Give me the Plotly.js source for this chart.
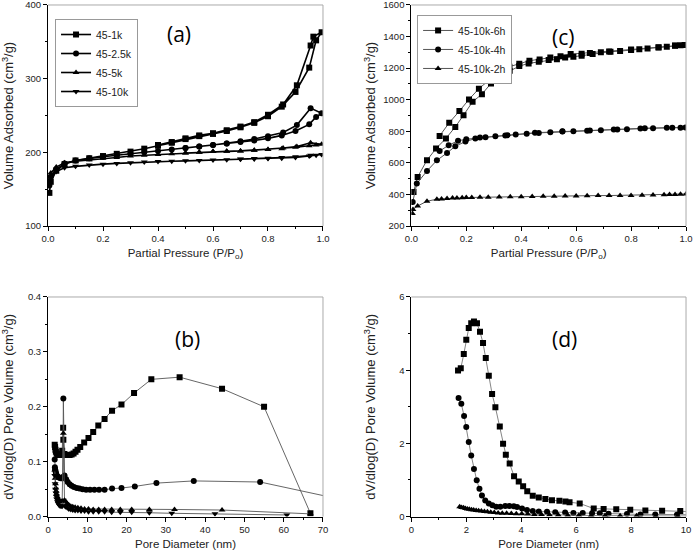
<!DOCTYPE html>
<html>
<head>
<meta charset="utf-8">
<script src="https://cdn.plot.ly/plotly-3.0.1.min.js"></script>
<style>html,body{margin:0;padding:0;background:#fff;}#chart{width:694px;height:554px;}</style>
</head>
<body>
<div id="chart"></div>
<script>
// ---------- Panel (a): N2 isotherms (adsorption then desorption) ----------
const a1k_P = [0.005,0.01,0.03,0.06,0.1,0.15,0.2,0.25,0.3,0.35,0.4,0.45,0.5,0.55,0.6,0.65,0.7,0.75,0.8,0.85,0.9,0.95,0.975,0.995,0.965,0.955,0.905,0.855,0.8,0.75,0.7,0.65,0.6,0.55,0.5,0.45,0.4];
const a1k_V = [145,160,175,184,189,192,195,198,201,205,209,213,218,222,225,229,234,240,249,262,282,315,352,363,357,345,291,265,251,241,235,230,226,223,219,214,210];
const a25k_P = [0.005,0.01,0.03,0.06,0.1,0.15,0.2,0.25,0.3,0.35,0.4,0.45,0.5,0.55,0.6,0.65,0.7,0.75,0.8,0.85,0.9,0.95,0.975,0.995,0.955,0.905,0.855,0.8,0.75,0.7,0.65,0.6,0.55,0.5];
const a25k_V = [155,167,177,185,189,192,194,196,198,200,202,204,206,208,210,212,214,216,219,223,229,238,248,253,260,237,227,222,218,215,212,210,208,206];
const a5k_P = [0.005,0.01,0.03,0.06,0.1,0.15,0.2,0.25,0.3,0.35,0.4,0.45,0.5,0.55,0.6,0.65,0.7,0.75,0.8,0.85,0.9,0.95,0.975,0.995,0.955,0.905,0.855,0.8,0.75,0.7,0.65,0.6,0.55,0.5];
const a5k_V = [163,172,180,186,188,190,192,193,195,196,197,198,199,200,201,201.5,202,203,204,205,207,209,210,211,213,208,206,204,203,202,201.5,201,200,199];
const a10k_P = [0.005,0.01,0.03,0.06,0.1,0.15,0.2,0.25,0.3,0.35,0.4,0.45,0.5,0.55,0.6,0.65,0.7,0.75,0.8,0.85,0.9,0.95,0.975,0.995,0.955,0.9,0.85,0.8,0.75,0.7];
const a10k_V = [158,167,174,179,181,183,184,185,186,187,187.5,188,188.5,189,189.5,190,190.5,191,191.5,192,193,195,196,197,196,194,193,192,191.5,191];
const a_names = ["45-1k","45-2.5k","45-5k","45-10k"];

// ---------- Panel (c): N2 isotherms ----------
const c6h_P = [0.008,0.023,0.057,0.09,0.126,0.16,0.19,0.223,0.257,0.29,0.324,0.358,0.393,0.427,0.464,0.5,0.53,0.56,0.59,0.62,0.66,0.69,0.725,0.76,0.8,0.83,0.86,0.9,0.93,0.96,0.98,0.995,0.96,0.9,0.8,0.72,0.65,0.62,0.58,0.543,0.506,0.467,0.43,0.393,0.357,0.32,0.283,0.246,0.21,0.175,0.138,0.103];
const c6h_V = [416,511,617,691,755,828,902,987,1035,1103,1150,1183,1213,1230,1240,1251,1257,1268,1272,1279,1289,1300,1304,1308,1315,1319,1325,1331,1336,1342,1345,1346,1343,1333,1318,1306,1296,1291,1289,1276,1268,1255,1247,1228,1209,1166,1124,1070,1002,928,854,771];
const c4h_P = [0.005,0.02,0.057,0.093,0.13,0.16,0.197,0.233,0.27,0.306,0.342,0.38,0.42,0.464,0.506,0.55,0.59,0.64,0.69,0.737,0.785,0.834,0.88,0.93,0.98,0.998,0.95,0.85,0.75,0.65,0.55,0.45,0.35,0.25,0.2,0.17,0.136,0.103];
const c4h_V = [352,469,549,616,663,705,735,754,763,769,773,780,784,790,794,799,801,803,807,811,813,818,820,822,822,824,823,819,812,805,800,791,775,760,750,740,712,675];
const c2h_P = [0.004,0.006,0.023,0.057,0.093,0.11,0.13,0.15,0.166,0.185,0.2,0.22,0.25,0.28,0.32,0.36,0.4,0.44,0.48,0.52,0.56,0.6,0.64,0.68,0.72,0.76,0.8,0.84,0.88,0.92,0.94,0.96,0.98,1.0];
const c2h_V = [280,305,327,357,370,372,375,377,378,379,380,381,382,383,384,385,386,387,388,389,390,391,392,393,393,394,394,395,396,398,399,400,401,403];
const c_names = ["45-10k-6h","45-10k-4h","45-10k-2h"];

// ---------- Panel (b): pore size distribution ----------
const b1k_D = [1.7,1.8,1.9,2.0,2.2,2.4,2.7,3.0,3.3,3.6,3.85,3.9,4.2,4.6,5.0,5.5,6.0,6.5,7.0,7.5,8.2,9.2,10.3,11.5,12.8,14.4,16.3,18.7,21.9,26.3,33.5,44.3,55.0,66.8];
const b1k_V = [0.131,0.127,0.122,0.118,0.115,0.113,0.112,0.112,0.113,0.12,0.162,0.14,0.114,0.112,0.112,0.112,0.113,0.115,0.118,0.122,0.127,0.135,0.143,0.154,0.166,0.178,0.193,0.204,0.225,0.25,0.254,0.233,0.2,0.006];
const b25k_D = [1.7,1.75,1.8,1.9,2.0,2.1,2.2,2.4,2.6,2.9,3.2,3.5,3.8,3.9,4.2,4.6,5.0,5.5,6.0,6.6,7.3,8.0,8.8,9.7,10.7,11.8,13.0,14.4,16.3,18.7,22.1,27.6,37.1,54.0,80];
const b25k_V = [0.104,0.09,0.086,0.083,0.08,0.077,0.075,0.073,0.072,0.071,0.07,0.07,0.072,0.215,0.075,0.068,0.063,0.059,0.056,0.054,0.052,0.051,0.05,0.049,0.049,0.049,0.049,0.049,0.051,0.052,0.055,0.061,0.065,0.063,0.023];
const b5k_D = [1.7,1.8,1.9,2.0,2.1,2.2,2.4,2.6,2.8,3.0,3.3,3.6,3.9,4.2,4.5,4.9,5.3,5.8,6.3,6.9,7.6,8.4,9.3,10.3,11.5,12.9,14.4,16.2,18.4,21.3,25.8,32.2,44.3,66.8];
const b5k_V = [0.085,0.07,0.06,0.052,0.046,0.041,0.036,0.032,0.03,0.028,0.027,0.028,0.152,0.03,0.027,0.024,0.021,0.019,0.018,0.017,0.016,0.015,0.014,0.014,0.013,0.013,0.013,0.013,0.013,0.013,0.013,0.013,0.012,0.005];
const b10k_D = [1.7,1.8,1.9,2.0,2.1,2.2,2.4,2.6,2.8,3.0,3.3,3.6,3.9,4.2,4.5,4.9,5.3,5.8,6.3,6.9,7.6,8.4,9.3,10.3,11.5,12.9,14.4,16.2,18.4,21.3,25.8,31.5,42.5,60.8];
const b10k_V = [0.075,0.06,0.05,0.043,0.037,0.032,0.027,0.024,0.021,0.02,0.019,0.019,0.03,0.02,0.018,0.016,0.014,0.013,0.012,0.011,0.011,0.01,0.01,0.009,0.009,0.009,0.009,0.008,0.008,0.008,0.007,0.006,0.005,0.003];

// ---------- Panel (d): pore size distribution ----------
const d6h_D = [1.70,1.80,1.91,2.00,2.09,2.18,2.28,2.39,2.50,2.61,2.71,2.82,2.94,3.06,3.22,3.34,3.44,3.58,3.74,3.91,4.07,4.22,4.42,4.64,4.88,5.12,5.39,5.61,5.76,6.13,6.64,7.00,7.46,7.97,8.52,9.13,9.79,10.4];
const d6h_V = [3.99,4.05,4.44,4.83,5.15,5.28,5.33,5.28,5.05,4.74,4.33,3.85,3.35,2.99,2.46,1.99,1.69,1.45,1.10,0.96,0.83,0.69,0.57,0.52,0.48,0.45,0.43,0.41,0.39,0.36,0.22,0.21,0.20,0.19,0.17,0.16,0.15,0.13];
const d4h_D = [1.72,1.82,1.92,2.00,2.09,2.18,2.28,2.38,2.48,2.57,2.69,2.82,2.95,3.09,3.24,3.42,3.57,3.73,3.85,4.03,4.21,4.42,4.64,4.94,5.24,5.60,5.90,6.24,6.58,6.86,7.18,7.85,8.34,8.88,9.67,10.4];
const d4h_V = [3.24,3.08,2.75,2.45,2.04,1.67,1.30,0.99,0.76,0.58,0.44,0.36,0.31,0.27,0.27,0.29,0.29,0.28,0.26,0.22,0.18,0.15,0.14,0.13,0.12,0.11,0.10,0.10,0.09,0.09,0.08,0.07,0.06,0.06,0.05,0.05];
const d2h_D = [1.76,1.83,1.90,1.97,2.04,2.11,2.19,2.27,2.36,2.45,2.55,2.66,2.77,2.89,3.02,3.16,3.31,3.47,3.64,3.82,4.02,4.24,4.48,4.74,5.03,5.35,5.7,6.1,6.55,7.05,7.6,8.2,8.9,9.7,10.4];
const d2h_V = [0.27,0.25,0.24,0.22,0.21,0.2,0.19,0.18,0.17,0.16,0.15,0.14,0.13,0.12,0.11,0.1,0.095,0.09,0.085,0.08,0.075,0.07,0.06,0.055,0.05,0.045,0.04,0.035,0.03,0.027,0.024,0.02,0.018,0.015,0.013];

const panelLabels = ["(a)","(b)","(c)","(d)"];

// ---------- traces ----------
function tr(x, y, sym, name, xa, ya, o) {
  return {
    type: "scatter", mode: "lines+markers", x: x, y: y, name: name,
    xaxis: xa, yaxis: ya,
    line: {color: o.lc, width: o.lw},
    marker: {symbol: sym, size: o.ms, color: "#000", line: {width: 0}},
    showlegend: !!o.leg, legend: o.leg || "legend", cliponaxis: true
  };
}
const A = {lc: "#000", lw: 1.6, ms: 6, leg: "legend"};
const C = {lc: "#555", lw: 1, ms: 6, leg: "legend2"};
const B = {lc: "#555", lw: 0.9, ms: 6};
const D = {lc: "#777", lw: 0.9, ms: 6};
const data = [
  tr(a1k_P, a1k_V, "square", a_names[0], "x", "y", A),
  tr(a25k_P, a25k_V, "circle", a_names[1], "x", "y", A),
  tr(a5k_P, a5k_V, "triangle-up", a_names[2], "x", "y", A),
  tr(a10k_P, a10k_V, "triangle-down", a_names[3], "x", "y", A),
  tr(c6h_P, c6h_V, "square", c_names[0], "x2", "y2", C),
  tr(c4h_P, c4h_V, "circle", c_names[1], "x2", "y2", C),
  tr(c2h_P, c2h_V, "triangle-up", c_names[2], "x2", "y2", C),
  tr(b1k_D, b1k_V, "square", a_names[0], "x3", "y3", B),
  tr(b25k_D, b25k_V, "circle", a_names[1], "x3", "y3", B),
  tr(b5k_D, b5k_V, "triangle-up", a_names[2], "x3", "y3", B),
  tr(b10k_D, b10k_V, "triangle-down", a_names[3], "x3", "y3", B),
  tr(d6h_D, d6h_V, "square", c_names[0], "x4", "y4", D),
  tr(d4h_D, d4h_V, "circle", c_names[1], "x4", "y4", D),
  tr(d2h_D, d2h_V, "triangle-up", c_names[2], "x4", "y4", D)
];

// ---------- layout ----------
const tickFont = {family: "Liberation Sans, Arial, sans-serif", size: 9.5, color: "#222"};
function xax(dom, anchor, range, dtick, minor, fmt, title) {
  return {domain: dom, anchor: anchor, range: range, dtick: dtick, tick0: 0, tickformat: fmt,
    ticks: "outside", ticklen: 4, tickwidth: 1, tickcolor: "#000",
    minor: {ticks: "outside", ticklen: 2, dtick: minor, tick0: 0, tickcolor: "#000"},
    showline: true, linecolor: "#000", linewidth: 1, showgrid: false, zeroline: false,
    tickfont: tickFont, fixedrange: true, ticklabeloverflow: "allow",
    title: {text: title, standoff: 5, font: {family: "Liberation Sans, Arial, sans-serif", size: 11.5, color: "#222"}}};
}
function yax(dom, anchor, range, dtick, minor, fmt, title) {
  const a = xax(dom, anchor, range, dtick, minor, fmt, title);
  a.title.font.size = 13;
  delete a.title.standoff;
  return a;
}
const xTop = [0.0692, 0.4654], xRight = [0.5927, 0.9885];
const yTop = [0.592, 0.991], yBot = [0.0675, 0.4639];
const vaTitle = "Volume Adsorbed (cm<sup>3</sup>/g)";
const pvTitle = "dV/dlog(D) Pore Volume (cm<sup>3</sup>/g)";
const ppTitle = "Partial Pressure (P/P<sub>o</sub>)";
const pdTitle = "Pore Diameter (nm)";

const shapes = [];
[["x","y"],["x2","y2"],["x3","y3"],["x4","y4"]].forEach(function(p){
  shapes.push({type:"line", xref:p[0]+" domain", yref:p[1]+" domain", x0:0, x1:1, y0:1, y1:1, line:{color:"#aaa", width:1}});
  shapes.push({type:"line", xref:p[0]+" domain", yref:p[1]+" domain", x0:1, x1:1, y0:0, y1:1, line:{color:"#aaa", width:1}});
});

const labFont = {family: "Open Sans, sans-serif", size: 21, color: "#000"};
const legFont = {size: 10.5, family: "Liberation Sans, Arial, sans-serif", color: "#222"};
function lab(t, x, y) {
  return {text: t, x: x, y: y, xref: "paper", yref: "paper", xanchor: "center", yanchor: "middle", showarrow: false, font: labFont};
}
const layout = {
  width: 694, height: 554,
  margin: {l: 0, r: 0, t: 0, b: 0},
  paper_bgcolor: "#fff", plot_bgcolor: "#fff",
  font: {family: "Liberation Sans, Arial, sans-serif", color: "#222"},
  xaxis: xax(xTop, "y", [0, 1], 0.2, 0.1, ".1f", ppTitle),
  yaxis: yax(yTop, "x", [100, 400], 100, 50, "", vaTitle),
  xaxis2: xax(xRight, "y2", [0, 1], 0.2, 0.1, ".1f", ppTitle),
  yaxis2: yax(yTop, "x2", [200, 1600], 200, 100, "", vaTitle),
  xaxis3: xax(xTop, "y3", [0, 70], 10, 5, "", pdTitle),
  yaxis3: yax(yBot, "x3", [0, 0.4], 0.1, 0.05, ".1f", pvTitle),
  xaxis4: xax(xRight, "y4", [0, 10], 2, 1, "", pdTitle),
  yaxis4: yax(yBot, "x4", [0, 6], 2, 1, "", pvTitle),
  legend: {x: 0.0793, y: 0.9657, xanchor: "left", yanchor: "top", bgcolor: "#fff",
    bordercolor: "#999", borderwidth: 1, font: legFont, itemwidth: 30, tracegroupgap: 0},
  legend2: {x: 0.601, y: 0.973, xanchor: "left", yanchor: "top", bgcolor: "#fff",
    bordercolor: "#999", borderwidth: 1, font: legFont, itemwidth: 30, tracegroupgap: 0},
  shapes: shapes,
  annotations: [
    lab(panelLabels[0], 0.258, 0.9386),
    lab(panelLabels[1], 0.2695, 0.388),
    lab(panelLabels[2], 0.8112, 0.933),
    lab(panelLabels[3], 0.8127, 0.388)
  ]
};
Plotly.newPlot("chart", data, layout, {displayModeBar: false, staticPlot: true});
</script>
</body>
</html>
